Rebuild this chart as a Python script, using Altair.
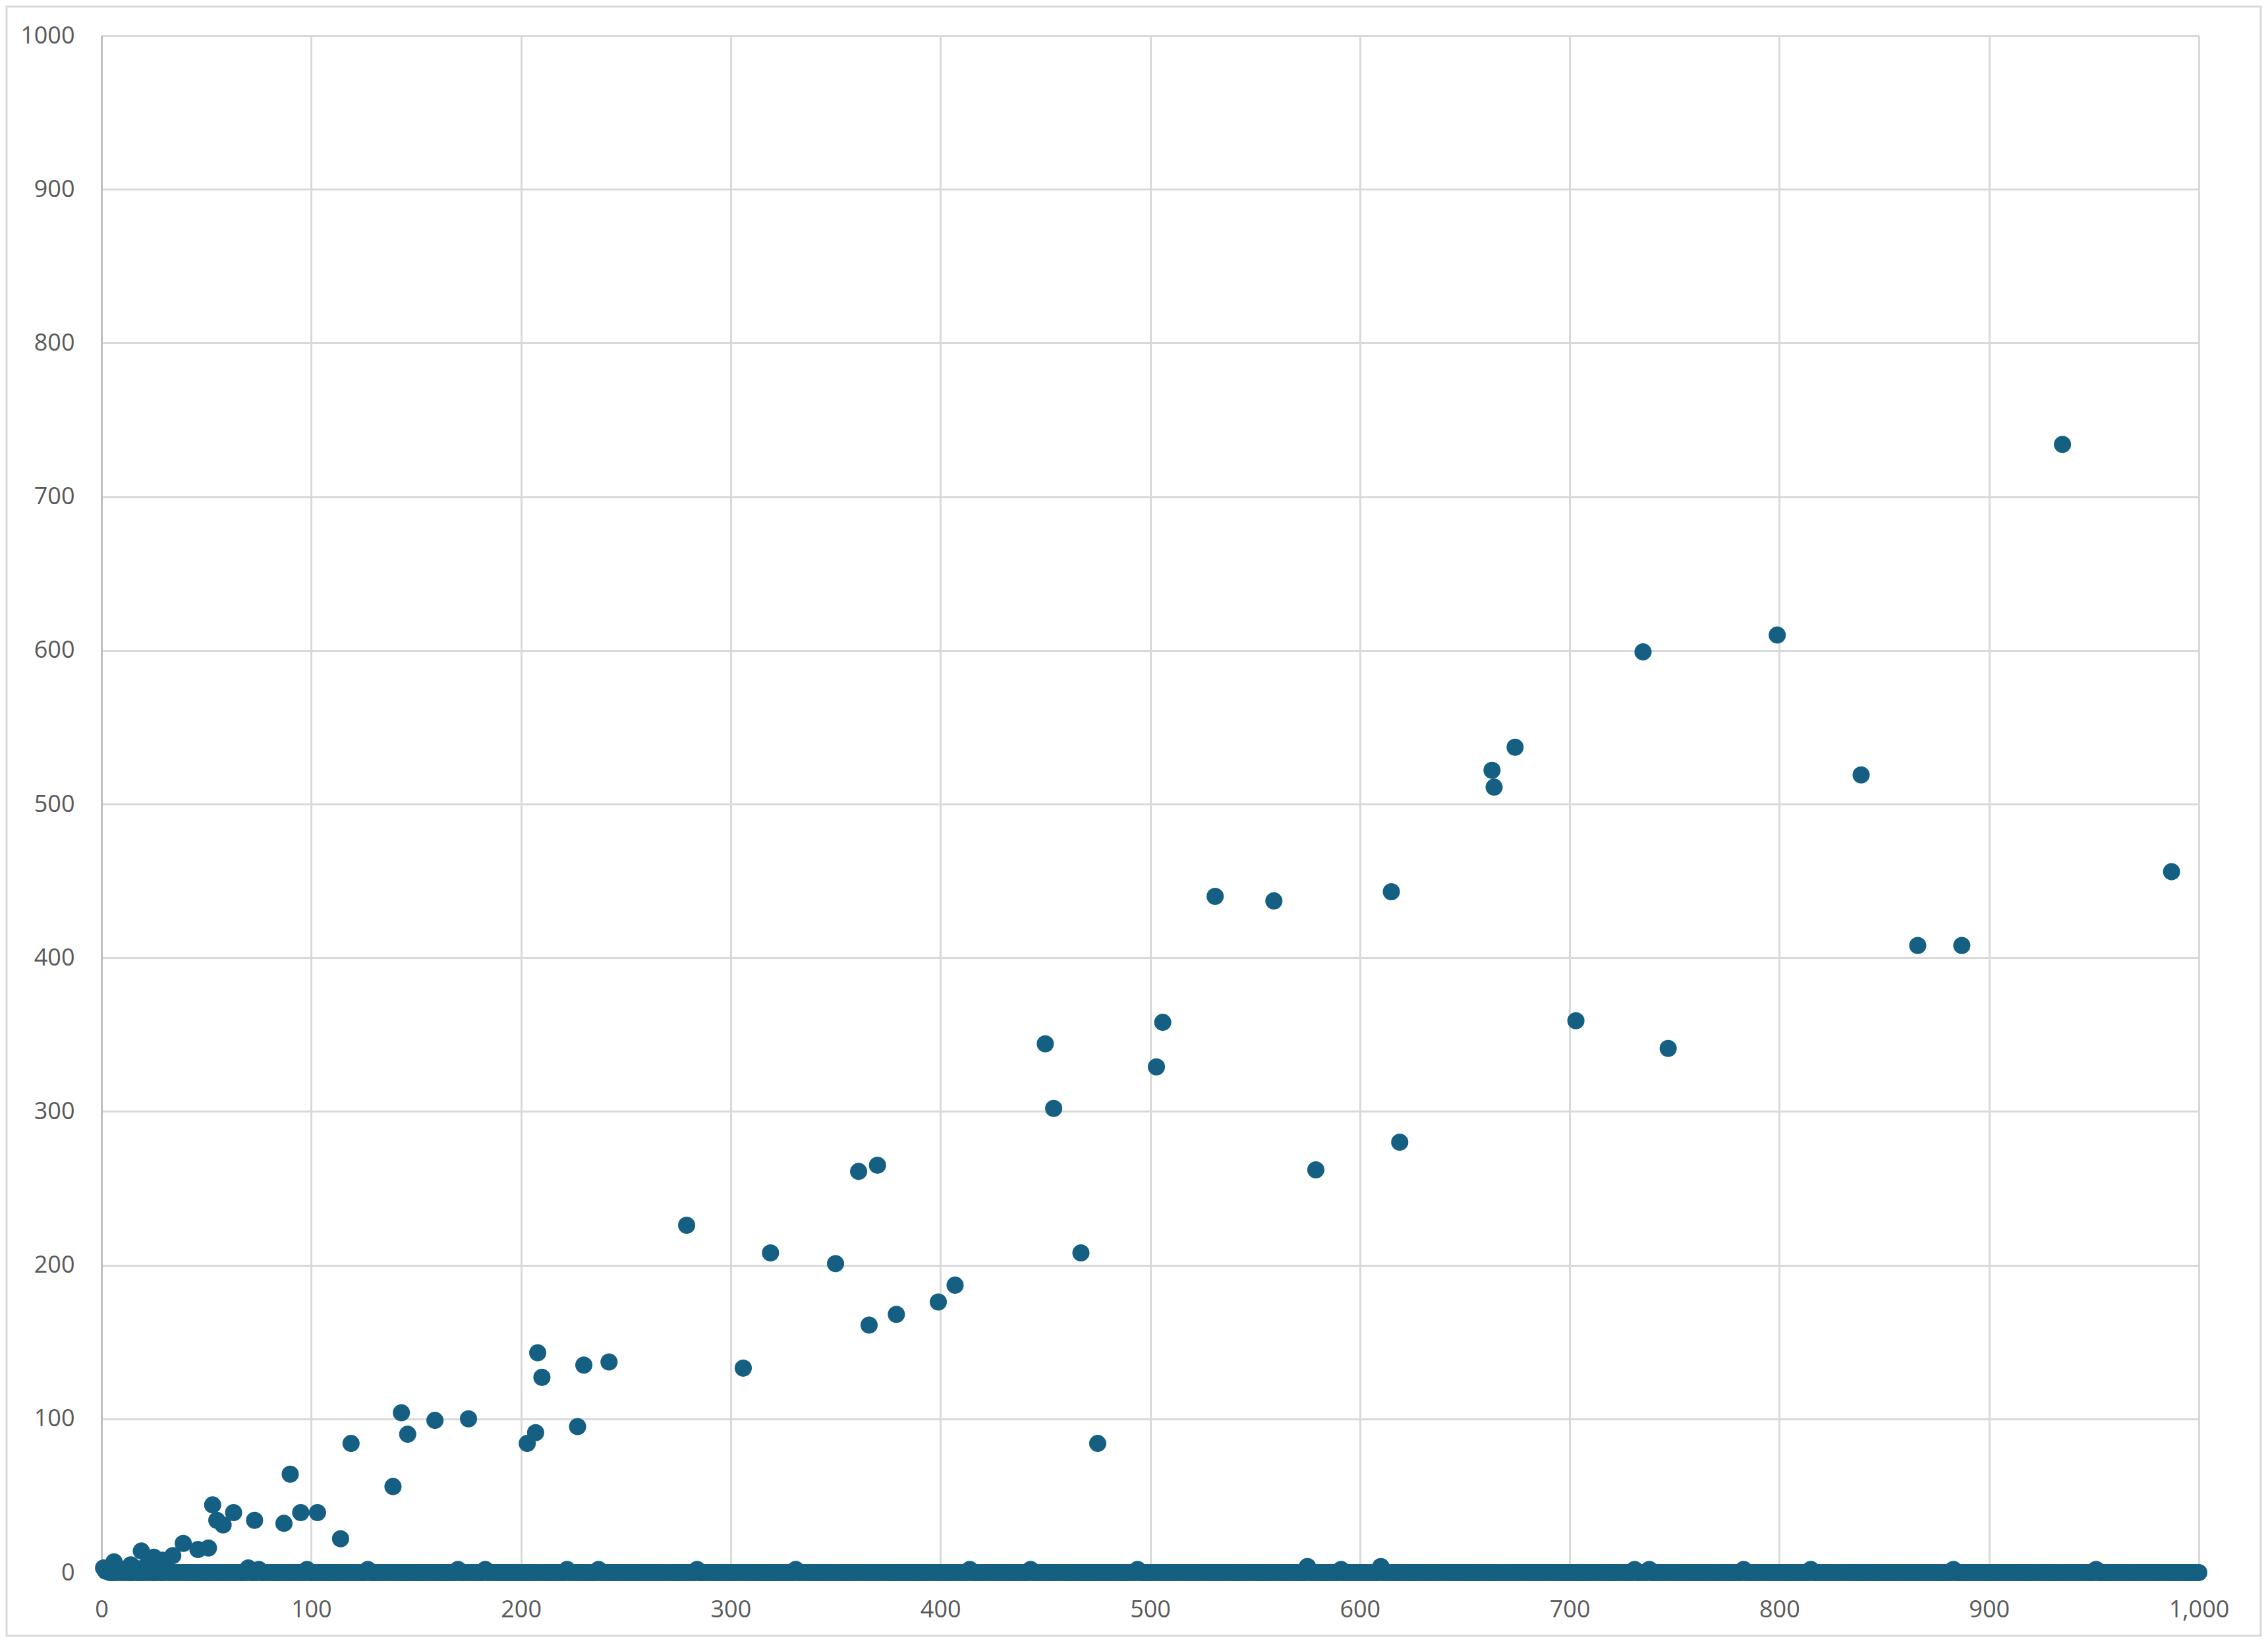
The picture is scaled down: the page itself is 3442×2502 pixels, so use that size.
import altair as alt
import pandas as pd

outlier_x = [119, 139, 143, 146, 159, 175, 203, 207, 208, 210, 227, 230, 242, 279, 306,
             319, 350, 361, 366, 370, 379, 399, 407, 450, 454, 467, 475, 503, 506, 531,
             559, 579, 615, 619, 663, 664, 674, 703, 735, 747, 799, 839, 866, 887, 935, 987]
outlier_y = [84, 56, 104, 90, 99, 100, 84, 91, 143, 127, 95, 135, 137, 226, 133,
             208, 201, 261, 161, 265, 168, 176, 187, 344, 302, 208, 84, 329, 358, 440,
             437, 262, 443, 280, 522, 511, 537, 359, 599, 341, 610, 519, 408, 408, 734, 456]

# Low-range observations near the origin
low_x = [6, 14, 19, 25, 29, 34, 39, 46, 51, 53, 55, 58, 63, 73, 87, 90, 95, 103, 114]
low_y = [7, 5, 14, 10, 8, 11, 19, 15, 16, 44, 34, 31, 39, 34, 32, 64, 39, 39, 22]

# Baseline: every x from 1 to 1000 sits on (about) zero, with small bumps
baseline_x = list(range(1, 1001))
bump_x = [1, 2, 3, 8, 10, 12, 16, 21, 23, 27, 31, 70, 75, 98, 127, 170, 183, 222, 237,
          284, 331, 414, 443, 494, 575, 591, 610, 731, 738, 783, 815, 883, 951]
bump_y = [3, 1, 2, 3, 2, 2, 3, 4, 2, 5, 3, 3, 2, 2, 2, 2, 2, 2, 2,
          2, 2, 2, 2, 2, 4, 2, 4, 2, 2, 2, 2, 2, 2]

bumps = dict(zip(bump_x, bump_y))
baseline_y = [bumps.get(v, 0) for v in baseline_x]

df = pd.DataFrame({
    "x": baseline_x + low_x + outlier_x,
    "y": baseline_y + low_y + outlier_y,
})

tick_values = list(range(0, 1001, 100))
FONT = "Open Sans"
W, H = 3183, 2332

points = alt.Chart(df).mark_circle(size=680, color="#156082", opacity=1).encode(
    x=alt.X("x:Q", scale=alt.Scale(domain=[0, 1000], nice=False),
            axis=alt.Axis(values=tick_values, format=",d", title=None,
                          labelPadding=39, labelFlush=False)),
    y=alt.Y("y:Q", scale=alt.Scale(domain=[0, 1000], nice=False),
            axis=alt.Axis(values=tick_values, format="d", title=None,
                          labelPadding=41, labelFlush=False)),
)

border = alt.Chart(pd.DataFrame({"a": [0]})).mark_rect(
    filled=False, stroke="#d9d9d9", strokeWidth=3
).encode(
    x=alt.value(-144), x2=alt.value(3277),
    y=alt.value(-44), y2=alt.value(2428),
)

chart = alt.layer(border, points).properties(
    width=W, height=H,
    padding={"left": 146, "top": 46, "right": 96, "bottom": 98},
    autosize=alt.AutoSizeParams(type="none"),
    background="white",
).configure_view(
    strokeWidth=0
).configure_axis(
    grid=True, gridColor="#d9d9d9", gridWidth=3,
    domainColor="#bfbfbf", domainWidth=3,
    ticks=False,
    labelFont=FONT, labelFontSize=36, labelColor="#595959",
)

chart.save("out.html", embed_options={"renderer": "svg", "actions": False})
